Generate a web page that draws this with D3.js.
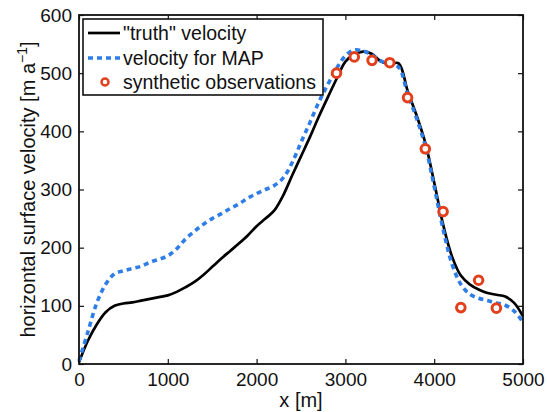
<!DOCTYPE html>
<html>
<head>
<meta charset="utf-8">
<script src="https://cdn.jsdelivr.net/npm/d3@7"></script>
<style>
    body { margin: 0; background: #fff; }
    text { font-family: "Liberation Sans", Arial, sans-serif; fill: #111; }
</style>
</head>
<body>
<div id="chart"></div>
<script>
// data: x [m], velocity [m/a]
const xGrid = [0, 100, 200, 300, 400, 500, 600, 700, 800, 900, 1000, 1100, 1200, 1300, 1400, 1500,
    1600, 1700, 1800, 1900, 2000, 2100, 2200, 2300, 2400, 2500, 2600, 2700, 2800, 2900, 3000,
    3100, 3200, 3300, 3400, 3500, 3600, 3700, 3800, 3900, 4000, 4100, 4200, 4300, 4400, 4500,
    4600, 4700, 4800, 4900, 5000];
const truthVelocity = [3, 40, 68, 89, 100, 104, 106, 109, 112, 115, 118, 124, 132, 141, 153, 167,
    181, 194, 207, 221, 237, 250, 264, 290, 324, 357, 390, 425, 458, 490, 520,
    532, 537, 533, 520, 516, 517, 470, 428, 380, 312, 240, 185, 152, 137, 128,
    122, 119, 116, 105, 82];
const mapVelocity = [5, 55, 105, 137, 155, 160, 164, 168, 175, 180, 186, 198, 215, 228, 240, 250,
    258, 267, 275, 285, 293, 300, 307, 320, 346, 381, 415, 450, 480, 508, 530,
    540, 538, 531, 521, 515, 510, 465, 423, 375, 305, 232, 172, 137, 120, 113,
    109, 105, 101, 91, 72];
const obsX = [2900, 3100, 3300, 3500, 3700, 3900, 4100, 4300, 4500, 4700];
const obsVelocity = [500, 528, 522, 518, 458, 370, 262, 97, 144, 96];

const xTicks = [0, 1000, 2000, 3000, 4000, 5000];
const yTicks = [0, 100, 200, 300, 400, 500, 600];

const legendItems = ['"truth" velocity', "velocity for MAP", "synthetic observations"];

const blue = "#2f7ee8", red = "#e2401c";

// set the dimensions and margins of the graph
const margin = { top: 15, right: 24, bottom: 48, left: 79 };
const width = 547 - margin.left - margin.right;
const height = 412 - margin.top - margin.bottom;

const svg = d3.select("#chart")
    .append("svg")
    .attr("width", 547)
    .attr("height", 412)
    .append("g")
    .attr("transform", `translate(${margin.left},${margin.top})`);

const x = d3.scaleLinear().domain([0, 5000]).range([0, width]);
const y = d3.scaleLinear().domain([0, 600]).range([height, 0]);

// axes, MATLAB style: inward ticks on all four sides
function styleAxis(g) {
    g.select(".domain").remove();
    g.selectAll("line").attr("stroke", "#111").attr("stroke-width", 1.2);
    g.selectAll("text").style("font-size", "19px").attr("fill", "#111");
}
svg.append("g")
    .attr("transform", `translate(0,${height})`)
    .call(d3.axisBottom(x).tickValues(xTicks).tickSizeInner(-5).tickSizeOuter(0).tickPadding(9).tickFormat(d3.format("d")))
    .call(styleAxis);
svg.append("g")
    .call(d3.axisTop(x).tickValues(xTicks).tickSizeInner(-5).tickSizeOuter(0).tickFormat(""))
    .call(styleAxis);
svg.append("g")
    .call(d3.axisLeft(y).tickValues(yTicks).tickSizeInner(-5).tickSizeOuter(0).tickPadding(7).tickFormat(d3.format("d")))
    .call(styleAxis);
svg.append("g")
    .attr("transform", `translate(${width},0)`)
    .call(d3.axisRight(y).tickValues(yTicks).tickSizeInner(-5).tickSizeOuter(0).tickFormat(""))
    .call(styleAxis);

// axis labels
svg.append("text")
    .attr("x", width / 2)
    .attr("y", height + 43)
    .attr("text-anchor", "middle")
    .style("font-size", "20px")
    .text("x [m]");

const yLabel = svg.append("text")
    .attr("transform", `translate(${-44},${height / 2}) rotate(-90)`)
    .attr("text-anchor", "middle")
    .style("font-size", "20px");
yLabel.append("tspan").text("horizontal surface velocity [m a");
yLabel.append("tspan").attr("dy", -8).style("font-size", "14px").text("\u22121");
yLabel.append("tspan").attr("dy", 8).text("]");

// curves
const line = (vals) => d3.line()
    .x((d, i) => x(xGrid[i]))
    .y(d => y(d))
    .curve(d3.curveCatmullRom)(vals);

svg.append("path")
    .attr("d", line(truthVelocity))
    .attr("fill", "none")
    .attr("stroke", "#000")
    .attr("stroke-width", 2.7);

svg.append("path")
    .attr("d", line(mapVelocity))
    .attr("fill", "none")
    .attr("stroke", blue)
    .attr("stroke-width", 3.6)
    .attr("stroke-dasharray", "5,4");

// observations
svg.selectAll("circle.obs")
    .data(obsX)
    .enter()
    .append("circle")
    .attr("class", "obs")
    .attr("cx", d => x(d))
    .attr("cy", (d, i) => y(obsVelocity[i]))
    .attr("r", 4.3)
    .attr("fill", "#fff")
    .attr("stroke", red)
    .attr("stroke-width", 3);

// plot box
svg.append("rect")
    .attr("width", width)
    .attr("height", height)
    .attr("fill", "none")
    .attr("stroke", "#111")
    .attr("stroke-width", 1.8);

// legend
const legend = svg.append("g").attr("transform", "translate(4,4)");
legend.append("rect")
    .attr("width", 240)
    .attr("height", 76)
    .attr("fill", "#fff")
    .attr("stroke", "#111")
    .attr("stroke-width", 1.6);

const rowY = [14, 39, 63];
legendItems.forEach((label, i) => {
    const row = legend.append("g").attr("transform", `translate(0,${rowY[i]})`);
    if (i === 0) {
        row.append("line").attr("x1", 5).attr("x2", 37)
            .attr("stroke", "#000").attr("stroke-width", 2.7);
    } else if (i === 1) {
        row.append("line").attr("x1", 5).attr("x2", 37)
            .attr("stroke", blue).attr("stroke-width", 3.6).attr("stroke-dasharray", "5,4");
    } else {
        row.append("circle").attr("cx", 22).attr("r", 3.5)
            .attr("fill", "#fff").attr("stroke", red).attr("stroke-width", 2.5);
    }
    row.append("text")
        .attr("x", 40)
        .attr("dy", "0.36em")
        .style("font-size", "19.5px")
        .text(label);
});
</script>
</body>
</html>
